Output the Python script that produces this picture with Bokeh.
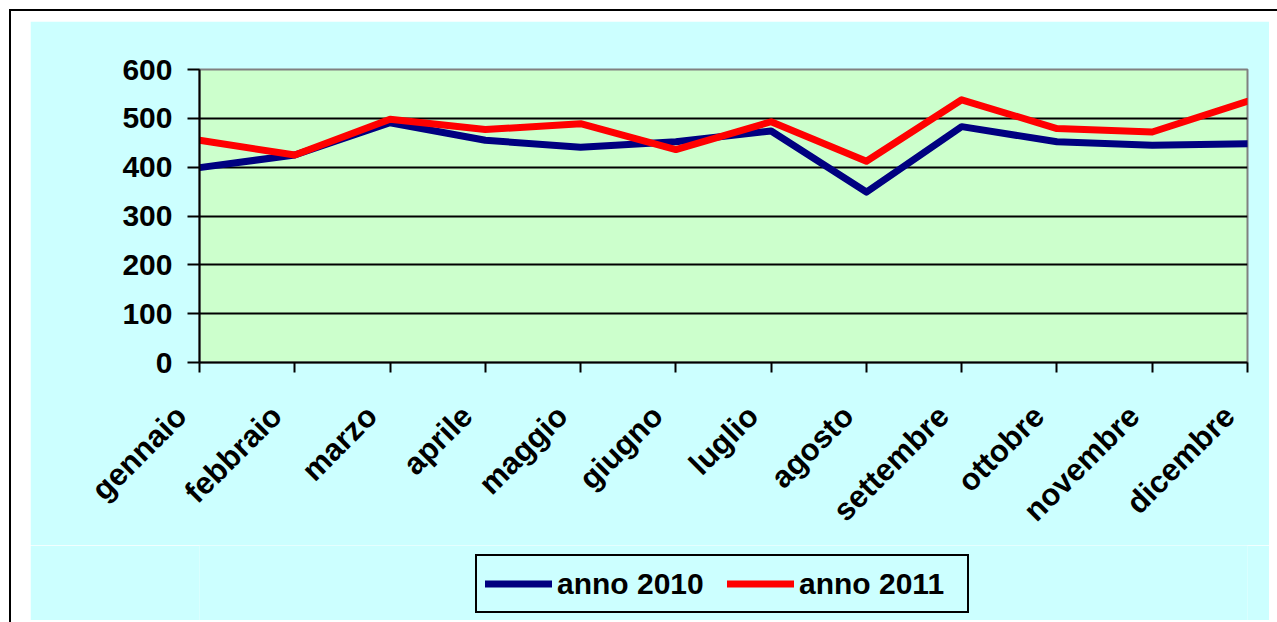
from math import pi
from bokeh.plotting import figure
from bokeh.models import Range1d, FixedTicker, Legend
from bokeh.layouts import column
from bokeh.embed import file_html
from bokeh.resources import INLINE

months = ["gennaio", "febbraio", "marzo", "aprile", "maggio", "giugno",
          "luglio", "agosto", "settembre", "ottobre", "novembre", "dicembre"]
anno_2010 = [399, 425, 491, 455, 441, 452, 474, 349, 483, 452, 445, 448]
anno_2011 = [455, 425, 498, 477, 489, 436, 493, 412, 538, 479, 472, 535]
y_ticks = [0, 100, 200, 300, 400, 500, 600]
grid_ticks = [100, 200, 300, 400, 500]

xs = list(range(len(months)))
FONT = "Liberation Sans"
CYAN = "#CCFFFF"
PAD = "\u00a0\u00a0\u00a0"  # keeps the month names just left of their ticks

p = figure(width=1239, height=524, x_range=Range1d(0, len(months) - 1),
           y_range=Range1d(0, 600), output_backend="svg", toolbar_location=None,
           min_border_left=169, min_border_right=22, min_border_top=48,
           min_border_bottom=183)
p.border_fill_color = CYAN
p.background_fill_color = "#CCFFCC"
p.outline_line_color = "#808080"
p.outline_line_width = 2

# y axis
p.yaxis.ticker = FixedTicker(ticks=y_ticks)
p.yaxis.minor_tick_line_color = None
p.yaxis.major_tick_out = 12
p.yaxis.major_tick_in = 0
p.yaxis.major_tick_line_width = 2
p.yaxis.axis_line_width = 2
p.yaxis.major_label_standoff = 15
p.yaxis.major_label_text_font = FONT
p.yaxis.major_label_text_font_style = "bold"
p.yaxis.major_label_text_font_size = "30px"
p.yaxis.major_label_text_color = "black"

# x axis
p.xaxis.ticker = FixedTicker(ticks=xs)
p.xaxis.major_label_overrides = {i: m + PAD for i, m in enumerate(months)}
p.xaxis.minor_tick_line_color = None
p.xaxis.major_tick_out = 10
p.xaxis.major_tick_in = 0
p.xaxis.major_tick_line_width = 2
p.xaxis.axis_line_width = 2
p.xaxis.major_label_orientation = pi / 4
p.xaxis.major_label_standoff = 20
p.xaxis.major_label_text_font = FONT
p.xaxis.major_label_text_font_style = "bold"
p.xaxis.major_label_text_font_size = "31px"
p.xaxis.major_label_text_color = "black"

# grid
p.xgrid.grid_line_color = None
p.ygrid.ticker = FixedTicker(ticks=grid_ticks)
p.ygrid.grid_line_color = "black"
p.ygrid.grid_line_width = 2

r10 = p.line(xs, anno_2010, line_color="#000080", line_width=7,
             line_join="round", line_cap="round")
r11 = p.line(xs, anno_2011, line_color="#FF0000", line_width=7,
             line_join="round", line_cap="round")

# legend strip below the chart (its lines lie outside its view, only the key shows)
p2 = figure(width=1239, height=75, x_range=Range1d(0, 1), y_range=Range1d(0, 1),
            output_backend="svg", toolbar_location=None,
            x_axis_location=None, y_axis_location=None, min_border=0)
p2.border_fill_color = CYAN
p2.background_fill_color = CYAN
p2.outline_line_color = None
p2.grid.grid_line_color = None
l10 = p2.line(xs, anno_2010, line_color="#000080", line_width=7, line_cap="round")
l11 = p2.line(xs, anno_2011, line_color="#FF0000", line_width=7, line_cap="round")

legend = Legend(items=[("anno 2010", [l10]), ("anno 2011", [l11])],
                location=(276, 7), orientation="horizontal",
                label_text_font=FONT, label_text_font_style="bold",
                label_text_font_size="30px", label_text_color="black",
                label_width=160, glyph_width=67, glyph_height=39, padding=8,
                spacing=10, label_standoff=5, border_line_color="black",
                border_line_width=2, border_line_alpha=1,
                background_fill_color=CYAN, background_fill_alpha=1, margin=0)
p2.add_layout(legend)

layout = column(p, p2, spacing=0,
                styles={"border-top": "2px solid black",
                        "border-left": "2px solid black",
                        "padding-top": "10px", "padding-left": "19px",
                        "padding-right": "8px", "padding-bottom": "2px",
                        "background-color": "white"},
                margin=(9, 0, 0, 9))

open("out.html", "w").write(file_html(layout, INLINE))
